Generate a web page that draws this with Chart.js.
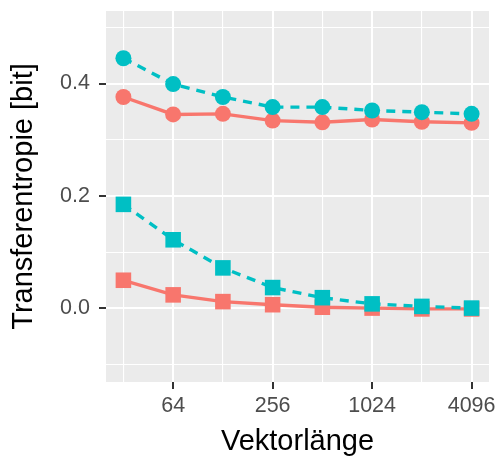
<!DOCTYPE html>
<html>
<head>
<meta charset="utf-8">
<script src="https://cdn.jsdelivr.net/npm/chart.js@4/dist/chart.umd.min.js"></script>
<style>
  body { margin: 0; background: #fff; }
</style>
</head>
<body>
<canvas id="myChart" width="500" height="459"></canvas>
<script>
'use strict';

// vector lengths on the x axis (log2 spaced)
var vectorLengths = [32, 64, 128, 256, 512, 1024, 2048, 4096];
var labeledLengths = [64, 256, 1024, 4096];

// transfer entropy in bit
var cyanCircles = [0.445, 0.399, 0.376, 0.358, 0.358, 0.352, 0.349, 0.346];
var redCircles = [0.376, 0.345, 0.346, 0.334, 0.331, 0.336, 0.332, 0.330];
var cyanSquares = [0.185, 0.122, 0.072, 0.037, 0.019, 0.008, 0.0035, 0.0005];
var redSquares = [0.050, 0.024, 0.012, 0.0065, 0.002, 0.0005, -0.001, -0.001];

// y grid: labeled every 0.2, minor lines in between
var yGrid = [-0.1, 0.0, 0.1, 0.2, 0.3, 0.4, 0.5];
var yLabeled = [0.0, 0.2, 0.4];

var red = '#F8766D';
var cyan = '#00BFC4';
var fontFamily = '"Liberation Sans", Arial, Helvetica, sans-serif';

function points(values) {
    return vectorLengths.map(function (v, i) { return { x: v, y: values[i] }; });
}

function isYMajor(v) {
    return yLabeled.some(function (m) { return Math.abs(m - v) < 1e-9; });
}

// grey panel like ggplot
var panelBackground = {
    id: 'panelBackground',
    beforeDraw: function (chart) {
        var a = chart.chartArea;
        var c = chart.ctx;
        c.save();
        c.fillStyle = '#EBEBEB';
        c.fillRect(a.left, a.top, a.right - a.left, a.bottom - a.top);
        c.restore();
    }
};

function series(values, color, shape, dashed) {
    return {
        data: points(values),
        borderColor: color,
        backgroundColor: color,
        borderWidth: 3.4,
        borderDash: dashed ? [9, 7] : [],
        pointStyle: shape,
        pointRadius: shape === 'rect' ? 11 : 8,
        pointBorderWidth: 0,
        pointBackgroundColor: color,
        fill: false,
        tension: 0
    };
}

var ctx = document.getElementById('myChart').getContext('2d');
var myChart = new Chart(ctx, {
    type: 'line',
    data: {
        datasets: [
            series(cyanSquares, cyan, 'rect', true),
            series(cyanCircles, cyan, 'circle', true),
            series(redSquares, red, 'rect', false),
            series(redCircles, red, 'circle', false)
        ]
    },
    plugins: [panelBackground],
    options: {
        responsive: false,
        animation: false,
        layout: { padding: { top: 9, right: 11, left: 0, bottom: 0 } },
        plugins: {
            legend: { display: false },
            tooltip: { enabled: false }
        },
        scales: {
            x: {
                type: 'logarithmic',
                min: Math.pow(2, 4.65),
                max: Math.pow(2, 12.35),
                afterBuildTicks: function (scale) {
                    scale.ticks = vectorLengths.map(function (v) { return { value: v }; });
                },
                afterFit: function (scale) {
                    scale.height = 77;
                    scale.paddingLeft = 0;
                    scale.paddingRight = 0;
                },
                border: { display: false },
                grid: {
                    color: '#FFFFFF',
                    lineWidth: function (c) {
                        return c.tick && labeledLengths.indexOf(c.tick.value) >= 0 ? 2 : 1.1;
                    },
                    tickColor: function (c) {
                        return c.tick && labeledLengths.indexOf(c.tick.value) >= 0 ? '#333333' : 'rgba(0,0,0,0)';
                    },
                    tickWidth: 2,
                    tickLength: 7
                },
                ticks: {
                    autoSkip: false,
                    maxRotation: 0,
                    padding: 4,
                    color: '#4D4D4D',
                    font: { family: fontFamily, size: 21.5 },
                    callback: function (value) {
                        return labeledLengths.indexOf(value) >= 0 ? String(value) : '';
                    }
                },
                title: {
                    display: true,
                    text: 'Vektorlänge',
                    color: '#000000',
                    padding: { top: 0, bottom: 0 },
                    font: { family: fontFamily, size: 29 }
                }
            },
            y: {
                type: 'linear',
                min: -0.131,
                max: 0.529,
                afterBuildTicks: function (scale) {
                    scale.ticks = yGrid.map(function (v) { return { value: v }; });
                },
                afterFit: function (scale) {
                    scale.width = 106;
                    scale.paddingTop = 0;
                    scale.paddingBottom = 0;
                },
                border: { display: false },
                grid: {
                    color: '#FFFFFF',
                    lineWidth: function (c) {
                        return c.tick && isYMajor(c.tick.value) ? 2 : 1.1;
                    },
                    tickColor: function (c) {
                        return c.tick && isYMajor(c.tick.value) ? '#333333' : 'rgba(0,0,0,0)';
                    },
                    tickWidth: 2,
                    tickLength: 7
                },
                ticks: {
                    padding: 9,
                    color: '#4D4D4D',
                    font: { family: fontFamily, size: 21.5 },
                    callback: function (value) {
                        return isYMajor(value) ? value.toFixed(1) : '';
                    }
                },
                title: {
                    display: true,
                    text: 'Transferentropie [bit]',
                    color: '#000000',
                    padding: { top: 7, bottom: 0 },
                    font: { family: fontFamily, size: 29 }
                }
            }
        }
    }
});
</script>
</body>
</html>
